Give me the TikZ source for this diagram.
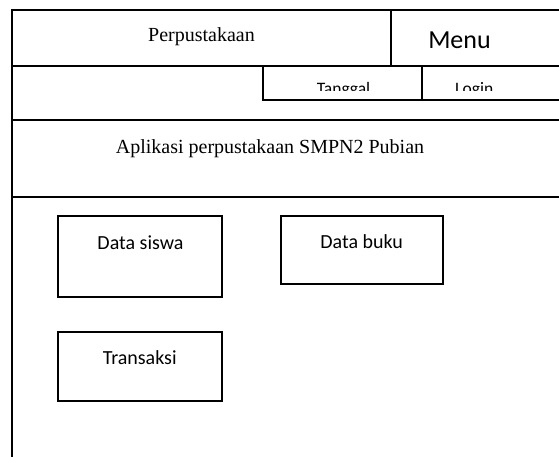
\documentclass[tikz,border=0pt]{standalone}
\usepackage{fontspec}
\setmainfont{Liberation Serif}
\newfontfamily\uifont{Carlito}
\begin{document}
\begin{tikzpicture}[x=1pt,y=-1pt,
  frame/.style={line width=2pt},
  menubox/.style={draw,line width=2pt,rectangle,inner sep=0pt},
  serif/.style={font=\fontsize{20}{24}\selectfont,anchor=base,inner sep=0pt},
  ui/.style={font=\uifont\fontsize{20}{24}\selectfont,anchor=base,inner sep=0pt},
  small/.style={font=\uifont\fontsize{17.5}{21}\selectfont,anchor=base,inner sep=0pt}]
\useasboundingbox (0,0) rectangle (559,457);

% page frame and header rows
\draw[frame] (12,457) -- (12,10) -- (559,10);
\draw[frame] (12,66.5) -- (559,66.5);
\draw[frame] (391,10) -- (391,66.5);
\draw[frame] (263,66.5) -- (263,100.5) -- (559,100.5);
\draw[frame] (422,66.5) -- (422,100.5);
\draw[frame] (12,120.5) -- (559,120.5);
\draw[frame] (12,196.5) -- (559,196.5);

% header texts
\node[serif] (judul) at (201.5,41.7) {Perpustakaan};
\node[ui,font=\uifont\fontsize{26}{30}\selectfont] (menu) at (459.5,48.3) {Menu};
\begin{scope}
  \clip (263,67) rectangle (559,91);
  \node[small] (tanggal) at (343.5,94.5) {Tanggal};
  \node[small] (login) at (474.2,94.5) {Login};
\end{scope}
\node[serif] (aplikasi) at (270,153.3) {Aplikasi perpustakaan SMPN2 Pubian};

% menu buttons
\node[menubox,minimum width=164pt,minimum height=81pt] (siswa) at (140,256.5) {};
\node[ui] (siswaText) at (140.5,249.3) {Data siswa};
\node[menubox,minimum width=162pt,minimum height=68pt] (buku) at (362,250) {};
\node[ui] (bukuText) at (361.7,248.3) {Data buku};
\node[menubox,minimum width=164pt,minimum height=69pt] (transaksi) at (140,366.5) {};
\node[ui] (transaksiText) at (139.7,364) {Transaksi};
\end{tikzpicture}
\end{document}
